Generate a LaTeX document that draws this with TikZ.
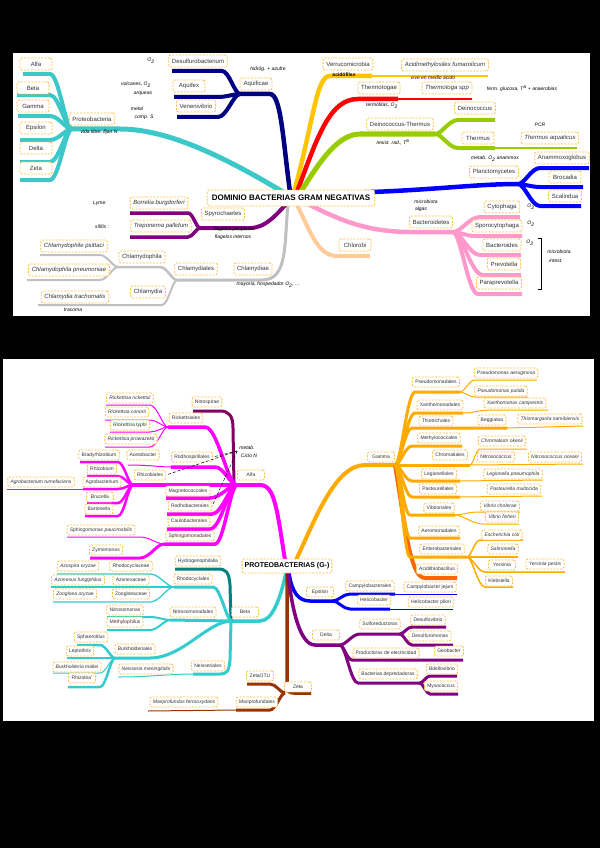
\documentclass[tikz,border=0pt]{standalone}
\usepackage{fontspec}
\setmainfont{Liberation Sans}
\usetikzlibrary{calc}
\definecolor{cy}{RGB}{60,200,200}
\definecolor{nv}{RGB}{0,0,128}
\definecolor{yl}{RGB}{255,198,0}
\definecolor{rd}{RGB}{255,0,0}
\definecolor{gr}{RGB}{153,204,0}
\definecolor{bl}{RGB}{0,0,255}
\definecolor{pk}{RGB}{255,153,204}
\definecolor{pe}{RGB}{255,204,153}
\definecolor{gy}{RGB}{192,192,192}
\definecolor{pu}{RGB}{128,0,128}
\definecolor{mg}{RGB}{255,0,255}
\definecolor{np}{RGB}{128,0,100}
\definecolor{tl}{RGB}{51,204,204}
\definecolor{dt}{RGB}{0,128,128}
\definecolor{brn}{RGB}{153,51,0}
\definecolor{orr}{RGB}{255,170,0}
\definecolor{dor}{RGB}{255,102,0}
\definecolor{boxc}{RGB}{255,190,60}
\definecolor{txt}{RGB}{51,51,51}
\tikzset{
 lab/.style={draw=boxc, dash pattern=on 2pt off 1.4pt, line width=0.8pt, rounded corners=2pt, fill=white, text=txt, inner sep=0pt, inner xsep=3.2pt},
 T/.style={lab, font=\fontsize{6}{7}\selectfont, minimum height=12pt, minimum width=32pt},
 TI/.style={T, font=\fontsize{6}{7}\selectfont\itshape},
 B/.style={lab, font=\fontsize{5}{6}\selectfont, minimum height=10pt, minimum width=27pt, inner xsep=2.8pt},
 BI/.style={B, font=\fontsize{5}{6}\selectfont\itshape},
 hw/.style={font=\fontsize{5}{6}\selectfont\itshape, text=black, inner sep=0pt},
}
\newcommand\Nd[4]{\node[#1] (#2) at (#3) {#4};}
\newcommand\Br[6]{%
 \pgfmathsetmacro\brA{#2+0.3*(#4-#2)}%
 \pgfmathsetmacro\brB{#2+0.6*(#4-#2)}%
 \draw[#1] (#2,#3) .. controls (\brA,#3) and (\brB,#5) .. (#4,#5) -- (#6,#5);}
\begin{document}
\begin{tikzpicture}[x=1pt,y=-1pt,line join=round]
\fill[black] (0,0) rectangle (600,848);
\useasboundingbox (0,0) rectangle (600,848);
\fill[white] (13,53) rectangle (590,316);
\fill[white] (3,359) rectangle (594,721);

% ===== TOP PANEL LINES =====
\draw[cy,line width=5] (72,129) -- (120,129) .. controls (170,129) and (230,160) .. (288,195);
\Br{cy,line width=4}{72}{129}{50}{74}{23}
\Br{cy,line width=4}{72}{129}{50}{95}{17}
\Br{cy,line width=4}{72}{129}{50}{116}{18}
\Br{cy,line width=4}{72}{129}{50}{140}{20}
\Br{cy,line width=4}{72}{129}{50}{162}{20}
\Br{cy,line width=4}{72}{129}{50}{180}{20}
\draw[nv,line width=4.5] (240,94) -- (270,94) .. controls (281,94) and (283,140) .. (290,192);
\Br{nv,line width=4}{240}{94}{222}{71}{172}
\Br{nv,line width=4}{240}{94}{218}{97}{174}
\Br{nv,line width=4}{240}{94}{218}{117}{177}
\draw[yl,line width=4.5] (372,76) -- (330,76) .. controls (316,76) and (314,120) .. (294,192);
\draw[yl,line width=1.5] (372,76) -- (488,76);
\draw[rd,line width=4.5] (398,99) -- (358,99) .. controls (330,99) and (318,135) .. (297,192);
\draw[rd,line width=1.5] (398,99) -- (472,99);
\draw[gr,line width=5] (435,134) -- (360,134) .. controls (335,134) and (315,170) .. (300,193);
\Br{gr,line width=4}{435}{134}{458}{120}{495}
\Br{gr,line width=4}{435}{134}{458}{148}{495}
\draw[gr,line width=1.5] (495,148) -- (577,148);
\draw[bl,line width=4.5] (330,193) .. controls (420,192) and (470,184) .. (518,184);
\Br{bl,line width=4}{518}{184}{540}{168}{589}
\Br{bl,line width=4}{518}{184}{540}{187}{583}
\Br{bl,line width=4}{518}{184}{540}{206}{581}
\draw[pk,line width=4.5] (300,200) .. controls (330,215) and (360,232) .. (410,232) -- (453,232);
\Br{pk,line width=4}{453}{232}{480}{217}{520}
\Br{pk,line width=4}{453}{232}{475}{236}{522}
\Br{pk,line width=4}{453}{232}{480}{255}{521}
\Br{pk,line width=4}{453}{232}{483}{275}{521}
\Br{pk,line width=4}{453}{232}{478}{294}{522}
\draw[pe,line width=4] (297,205) .. controls (312,235) and (318,256) .. (338,256) -- (370,256);
\draw[gy,line width=3] (288,205) .. controls (284,245) and (288,280) .. (262,280) -- (177,280);
\Br{gy,line width=2.5}{177}{280}{160}{267}{116}
\Br{gy,line width=2}{177}{280}{162}{305}{38}
\Br{gy,line width=2}{118}{267}{100}{255}{40}
\Br{gy,line width=2}{118}{267}{100}{280}{27}
\draw[pu,line width=4] (200,228) -- (250,228) .. controls (266,228) and (277,214) .. (290,200);
\Br{pu,line width=3.5}{200}{228}{188}{213}{130}
\Br{pu,line width=3.5}{200}{228}{188}{237}{130}

% ===== TOP PANEL NODES =====
\node[lab, font=\fontsize{8}{9}\selectfont\bfseries, text=black, minimum height=16pt, inner xsep=4.5pt] (dom) at (291,198) {DOMINIO BACTERIAS GRAM NEGATIVAS};
\Nd{T}{prot}{92,119}{Proteobacteria}
\Nd{T}{alfa}{36,64}{Alfa}
\Nd{T}{beta}{33,88}{Beta}
\Nd{T}{gamma}{33,106}{Gamma}
\Nd{T}{eps}{36,128}{Epsilon}
\Nd{T}{delta}{36,148}{Delta}
\Nd{T}{zeta}{36,168}{Zeta}
\Nd{T}{desulf}{198,61}{Desulfurobacterium}
\Nd{T}{aquifex}{189,86}{Aquifex}
\Nd{T}{venen}{196,106}{Venenivibrio}
\Nd{T}{aquif}{256,84}{Aquificae}
\Nd{T}{verru}{348,64}{Verrucomicrobia}
\Nd{TI}{acidm}{445,65}{Acidimethylosilex fumarolicum}
\Nd{T}{thgae}{379,88}{Thermotogae}
\Nd{TI}{thspp}{447,88}{Thermotoga spp}
\Nd{T}{deith}{400,124}{Deinococcus-Thermus}
\Nd{T}{deino}{475,108}{Deinococcus}
\Nd{T}{therm}{478,138}{Thermus}
\Nd{TI}{thaq}{550,138}{Thermus aquaticus}
\Nd{T}{planc}{494,172}{Planctomycetes}
\Nd{T}{anamm}{562,158}{Anammoxoglobus}
\Nd{T}{broc}{565,177}{Brocadia}
\Nd{T}{scal}{565,196}{Scalindua}
\Nd{T}{bactd}{431,222}{Bacteroidetes}
\Nd{T}{cyto}{502,207}{Cytophaga}
\Nd{T}{sporo}{497,226}{Sporocytophaga}
\Nd{T}{bacts}{502,245}{Bacteroides}
\Nd{T}{prev}{504,264}{Prevotella}
\Nd{T}{parap}{499,283}{Paraprevotella}
\Nd{T}{chlor}{355,245}{Chlorobi}
\Nd{T}{spiro}{223,214}{Spyrochaetes}
\Nd{TI}{borr}{159,203}{Borrelia burgdorferi}
\Nd{TI}{trep}{161,226}{Treponema pallidum}
\Nd{T}{chlae}{253,269}{Chlamydiae}
\Nd{T}{chlales}{196,269}{Chlamydiales}
\Nd{T}{chphila}{142,257}{Chlamydophila}
\Nd{T}{chlam}{148,292}{Chlamydia}
\Nd{TI}{psit}{74,246}{Chlamydophile psittaci}
\Nd{TI}{pneu}{69,270}{Chlamydophila pneumoniae}
\Nd{TI}{trach}{75,297}{Chlamydia trachomatis}

% ===== TOP ANNOTATIONS =====
\node[hw] (a1) at (151,61) {O\textsubscript{2}};
\node[hw] (a2) at (136,85) {volcanes, O\textsubscript{2}};
\node[hw] (a3) at (143,94) {arqueas};
\node[hw] (a4) at (137,109) {metal};
\node[hw] (a5) at (144,117) {comp. S};
\node[hw] (a6) at (99,132) {vida libre, fijan N};
\node[hw] (a7) at (268,69) {hidróg. + azufre};
\node[hw,font=\fontsize{5}{6}\selectfont\bfseries] (a8) at (344,75) {acidófilas};
\node[hw] (a9) at (433,78) {vive en medio ácido};
\node[hw] (a10) at (522,89) {ferm. glucosa, T\textsuperscript{a} + anaerobias};
\node[hw] (a11) at (382,106) {termófilas, O\textsubscript{2}};
\node[hw] (a12) at (393,142) {resist. rad., T\textsuperscript{a}};
\node[hw] (a13) at (540,125) {PCR};
\node[hw] (a14) at (495,159) {metab. O\textsubscript{2} anammox};
\node[hw] (a15) at (100,203) {Lyme:};
\node[hw] (a16) at (102,227) {sífilis :};
\node[hw] (a17) at (235,229) {flagelos periplasm.};
\node[hw] (a18) at (233,237) {flagelos internos};
\node[hw] (a19) at (268,285) {mayoría, hospedador O\textsubscript{2}, ...};
\node[hw] (a20) at (73,310) {tracoma};
\node[hw] (a21) at (426,202) {microbiota};
\node[hw] (a22) at (421,209) {algas};
\node[hw] (a23) at (531,207) {O\textsubscript{2}};
\node[hw] (a24) at (531,224) {O\textsubscript{2}};
\node[hw] (a25) at (530,243) {O\textsubscript{2}};
\draw[black,line width=0.5] (538,238) -- (541,238) -- (541,289) -- (538,289);
\node[hw] (a26) at (559,252) {microbiota};
\node[hw] (a27) at (556,261) {intest.};

% ===== BOTTOM PANEL LINES =====
% Alfa
\draw[mg,line width=4] (237,485) -- (260,485) .. controls (275,485) and (277,510) .. (285,560);
\draw[np,line width=3] (234,485) -- (233,428) .. controls (233,416) and (229,411) .. (220,411) -- (193,411);
\Br{mg,line width=3.5}{237}{485}{205}{427}{168}
\Br{mg,line width=1}{168}{427}{150}{405}{106}
\Br{mg,line width=1}{168}{427}{150}{420}{105}
\Br{mg,line width=1}{168}{427}{150}{432}{110}
\Br{mg,line width=1}{168}{427}{150}{447}{105}
\Br{mg,line width=3.5}{237}{485}{215}{467}{171}
\draw[mg,line width=1] (171,467) .. controls (160,467) and (150,465) .. (128,465);
\draw[mg,line width=3.5] (237,485) -- (133,485);
\Br{mg,line width=2.5}{133}{485}{118}{462}{80}
\Br{mg,line width=2.5}{133}{485}{118}{476}{87}
\Br{mg,line width=2.5}{133}{485}{118}{489}{83}
\draw[mg,line width=1] (83,489) -- (7,489);
\Br{mg,line width=2.5}{133}{485}{118}{503}{87}
\Br{mg,line width=2.5}{133}{485}{118}{516}{85}
\Br{mg,line width=3.5}{237}{485}{210}{498}{166}
\Br{mg,line width=3.5}{237}{485}{212}{514}{167}
\Br{mg,line width=3.5}{237}{485}{210}{529}{167}
\Br{mg,line width=3.5}{237}{485}{215}{544}{164}
\Br{mg,line width=1}{164}{544}{140}{537}{67}
\Br{mg,line width=3}{164}{544}{140}{558}{90}
% Beta
\draw[tl,line width=3.5] (232,621) -- (260,621) .. controls (272,621) and (280,600) .. (286,573);
\draw[dt,line width=3] (231,621) -- (230,585) .. controls (229,572) and (226,569) .. (218,569) -- (175,569);
\Br{tl,line width=3}{232}{621}{213}{587}{174}
\Br{tl,line width=1.3}{174}{587}{150}{574}{57}
\draw[tl,line width=1.3] (174,587) -- (51,587);
\Br{tl,line width=1.3}{174}{587}{150}{602}{53}
\draw[tl,line width=3] (232,621) -- (170,620);
\Br{tl,line width=2}{170}{620}{150}{617}{107}
\Br{tl,line width=2}{170}{620}{150}{630}{107}
\Br{tl,line width=3}{232}{621}{150}{658}{115}
\Br{tl,line width=2.5}{115}{658}{100}{645}{77}
\draw[tl,line width=2.5] (115,658) -- (67,658);
\Br{tl,line width=1}{115}{658}{100}{673}{53}
\Br{tl,line width=2.5}{115}{658}{100}{687}{68}
\draw[tl,line width=3] (231,621) -- (230,660) .. controls (229,671) and (227,674) .. (220,674) -- (193,674);
\draw[tl,line width=1] (193,674) .. controls (170,674) and (150,677) .. (118,677);
% Zeta
\draw[brn,line width=3.5] (287,573) -- (287,686) .. controls (287,691) and (289,693) .. (294,693) -- (311,693);
\Br{brn,line width=3}{285}{693}{270}{684}{247}
\Br{brn,line width=3}{285}{693}{270}{710}{236}
\draw[brn,line width=1] (236,710) -- (148,711);
% Epsilon
\draw[bl,line width=3.5] (289,573) .. controls (292,592) and (298,601) .. (310,601) -- (335,601);
\Br{bl,line width=3}{333}{601}{350}{594}{395}
\draw[bl,line width=1] (395,594) -- (457,594);
\Br{bl,line width=3}{333}{601}{350}{609}{390}
\draw[bl,line width=1] (390,609) -- (453,609);
% Delta
\draw[pu,line width=3.5] (288,573) .. controls (292,610) and (300,645) .. (315,645) -- (340,645);
\Br{pu,line width=3}{340}{645}{360}{634}{400}
\Br{pu,line width=3}{400}{634}{412}{627}{446}
\Br{pu,line width=3}{400}{634}{412}{645}{453}
\Br{pu,line width=3}{340}{645}{352}{660}{463}
\Br{pu,line width=3}{340}{645}{358}{683}{420}
\Br{pu,line width=3}{420}{683}{430}{676}{457}
\Br{pu,line width=3}{420}{683}{430}{694}{458}
% Gamma
\draw[orr,line width=4] (296,560) .. controls (315,520) and (335,465) .. (365,465) -- (395,465);
\draw[dor,line width=4] (395,465) .. controls (405,525) and (410,578) .. (425,578) -- (457,578);
\Br{orr,line width=3}{395}{465}{415}{392}{460}
\Br{orr,line width=1}{460}{392}{475}{380}{537}
\Br{orr,line width=1}{460}{392}{475}{397}{528}
\Br{orr,line width=3}{395}{465}{415}{413}{463}
\draw[orr,line width=1] (463,413) .. controls (475,413) and (478,410) .. (490,410) -- (548,410);
\Br{orr,line width=3}{395}{465}{412}{428}{507}
\draw[orr,line width=1] (507,428) -- (583,426);
\Br{orr,line width=3}{395}{465}{412}{446}{462}
\draw[orr,line width=3] (395,465) -- (470,465);
\Br{orr,line width=1}{470}{465}{480}{449}{527}
\draw[orr,line width=1] (470,465) -- (583,464);
\Br{orr,line width=3}{395}{465}{412}{481}{460}
\draw[orr,line width=1] (460,481) -- (543,480);
\Br{orr,line width=3}{395}{465}{412}{497}{460}
\draw[orr,line width=1] (460,497) -- (542,496);
\Br{orr,line width=3}{395}{465}{410}{515}{455}
\Br{orr,line width=1}{455}{515}{478}{512}{520}
\Br{orr,line width=1}{455}{515}{483}{524}{519}
\Br{orr,line width=3}{395}{465}{410}{538}{460}
\Br{orr,line width=3}{395}{465}{410}{557}{467}
\Br{orr,line width=1.5}{467}{557}{480}{540}{523}
\draw[orr,line width=1.5] (467,557) -- (518,557);
\Br{orr,line width=1.5}{467}{557}{485}{572}{565}
\Br{orr,line width=1.5}{467}{557}{485}{587}{513}

% ===== BOTTOM PANEL NODES =====
\node[lab, font=\fontsize{7}{8}\selectfont\bfseries, text=black, minimum height=14pt, inner xsep=2.5pt] (pb) at (287,566) {PROTEOBACTERIAS (G-)};
\Nd{B}{alfaB}{251,475}{Alfa}
\Nd{B}{nitrosp}{207,402}{Nitrospirae}
\Nd{B}{rickales}{186,418}{Rickettsiales}
\Nd{BI}{rrick}{130,398}{Rickettsia rickettsii}
\Nd{BI}{rcon}{127,412}{Rickettsia conorii}
\Nd{BI}{rtyp}{130,425}{Rickettsia typhi}
\Nd{BI}{rprow}{131,439}{Rickettsia prowazekii}
\Nd{B}{rodhosp}{192,457}{Rodhospirillales}
\Nd{B}{aceto}{143,455}{Acetobacter}
\Nd{B}{rhizales}{150,475}{Rhizobiales}
\Nd{B}{brady}{99,455}{Bradyrhizobium}
\Nd{B}{rhizob}{102,469}{Rhizobium}
\Nd{B}{agro}{102,482}{Agrobacterium}
\Nd{BI}{agrot}{41,482}{Agrobacterium tumefaciens}
\Nd{B}{bruc}{100,497}{Brucella}
\Nd{B}{bart}{99,509}{Bartonella}
\Nd{B}{magn}{188,491}{Magnetococcales}
\Nd{B}{rodhob}{190,506}{Rodhobacterales}
\Nd{B}{caulo}{189,521}{Caulobacterales}
\Nd{B}{sphal}{190,536}{Sphingomonadales}
\Nd{BI}{sphp}{101,530}{Sphingomonas paucimobilis}
\Nd{B}{zymo}{106,550}{Zymomonas}
\Nd{B}{betaB}{245,612}{Beta}
\Nd{B}{hydro}{198,561}{Hydrogenophilalia}
\Nd{B}{rhodoc}{193,579}{Rhodocyclales}
\Nd{B}{rhodoca}{131,566}{Rhodocyclaceae}
\Nd{BI}{azosp}{78,566}{Azospira oryzae}
\Nd{B}{azonex}{131,580}{Azonexaceae}
\Nd{BI}{azonf}{78,580}{Azonexus fungiphilus}
\Nd{B}{zoogl}{131,594}{Zoogloeaceae}
\Nd{BI}{zoor}{75,594}{Zoogloea oryzae}
\Nd{B}{nitsomales}{193,612}{Nitrosomonadales}
\Nd{B}{nitsom}{125,610}{Nitrosomonas}
\Nd{B}{methyl}{125,622}{Methylophilus}
\Nd{B}{burkh}{135,649}{Burkholderiales}
\Nd{B}{sphaer}{91,637}{Sphaerotilus}
\Nd{B}{lepto}{80,651}{Leptothrix}
\Nd{BI}{bmal}{77,667}{Burkholderia mallei}
\Nd{B}{rhizb}{82,678}{Rhizobia'}
\Nd{B}{neiss}{208,666}{Neisseriales}
\Nd{BI}{nmen}{146,669}{Neisseria meningitidis}
\Nd{B}{zetaB}{298,687}{Zeta}
\Nd{B}{zotu}{260,676}{ZetaOTU}
\Nd{B}{marip}{257,702}{Mariprofundales}
\Nd{BI}{maripf}{184,702}{Mariprofundus ferrooxydans}
\Nd{B}{epsB}{320,592}{Epsilon}
\Nd{B}{campyl}{370,586}{Campylobacterales}
\Nd{B}{cjej}{430,587}{Campylobacter jejuni}
\Nd{B}{helic}{374,600}{Helicobacter}
\Nd{B}{hpil}{431,602}{Helicobacter pilori}
\Nd{B}{deltaB}{326,635}{Delta}
\Nd{B}{sulfo}{380,624}{Sulforeductoras}
\Nd{B}{dvib}{428,620}{Desulfovibrio}
\Nd{B}{dmon}{430,636}{Desulfuromonas}
\Nd{B}{prodel}{386,653}{Productoras de electricidad}
\Nd{B}{geob}{449,651}{Geobacter}
\Nd{B}{bdep}{388,674}{Bacterias depredadoras}
\Nd{B}{bdell}{442,669}{Bdellovibrio}
\Nd{B}{myxo}{441,686}{Myxococcus}
\Nd{B}{gammaB}{381,457}{Gamma}
\Nd{B}{pseudo}{436,382}{Pseudomonadales}
\Nd{BI}{paer}{506,373}{Pseudomonas aeruginosa}
\Nd{BI}{pput}{501,391}{Pseudomonas putida}
\Nd{B}{xanth}{440,405}{Xanthomonadales}
\Nd{BI}{xcamp}{515,403}{Xanthomonas campestris}
\Nd{B}{thiot}{436,421}{Thiotrichales}
\Nd{B}{begg}{492,420}{Beggiatoa}
\Nd{BI}{thiom}{550,419}{Thiomargarita namibiensis}
\Nd{B}{methc}{439,438}{Methylococcales}
\Nd{BI}{chrok}{502,441}{Chromatium okenii}
\Nd{B}{chrom}{450,455}{Chromatiales}
\Nd{B}{nitc}{496,457}{Nitrosococcus}
\Nd{BI}{nitco}{555,457}{Nitrosococcus oceani}
\Nd{B}{legion}{439,474}{Legionellales}
\Nd{BI}{lpneu}{513,474}{Legionella pneumophila}
\Nd{B}{paste}{438,489}{Pasteurellales}
\Nd{BI}{pmult}{514,489}{Pasteurella multocida}
\Nd{B}{vibr}{439,508}{Vibrionales}
\Nd{BI}{vchol}{500,506}{Vibrio cholerae}
\Nd{BI}{vfish}{502,517}{Vibrio fisheri}
\Nd{B}{aerom}{439,531}{Aeromonadales}
\Nd{BI}{ecoli}{502,535}{Escherichia coli}
\Nd{B}{entero}{442,549}{Enterobacteriales}
\Nd{BI}{salm}{503,549}{Salmonella}
\Nd{B}{yers}{502,565}{Yersinia}
\Nd{BI}{ypest}{545,564}{Yersinia pestis}
\Nd{B}{klebs}{499,581}{Klebsiella}
\Nd{B}{acidt}{437,569}{Acidithiobacillus}

% ===== BOTTOM ANNOTATIONS =====
\node[hw] (b1) at (247,448) {metab.};
\node[hw] (b2) at (249,456) {Ciclo N};
\draw[black,densely dashed,line width=0.5] (b1.west) ++(-2,3) coordinate (bd) -- (rodhosp.east);
\draw[black,densely dashed,line width=0.5] (bd) -- (rhizales.east);
\draw[black,densely dashed,line width=0.5] (bd) -- (rodhob.east);
\end{tikzpicture}
\end{document}
